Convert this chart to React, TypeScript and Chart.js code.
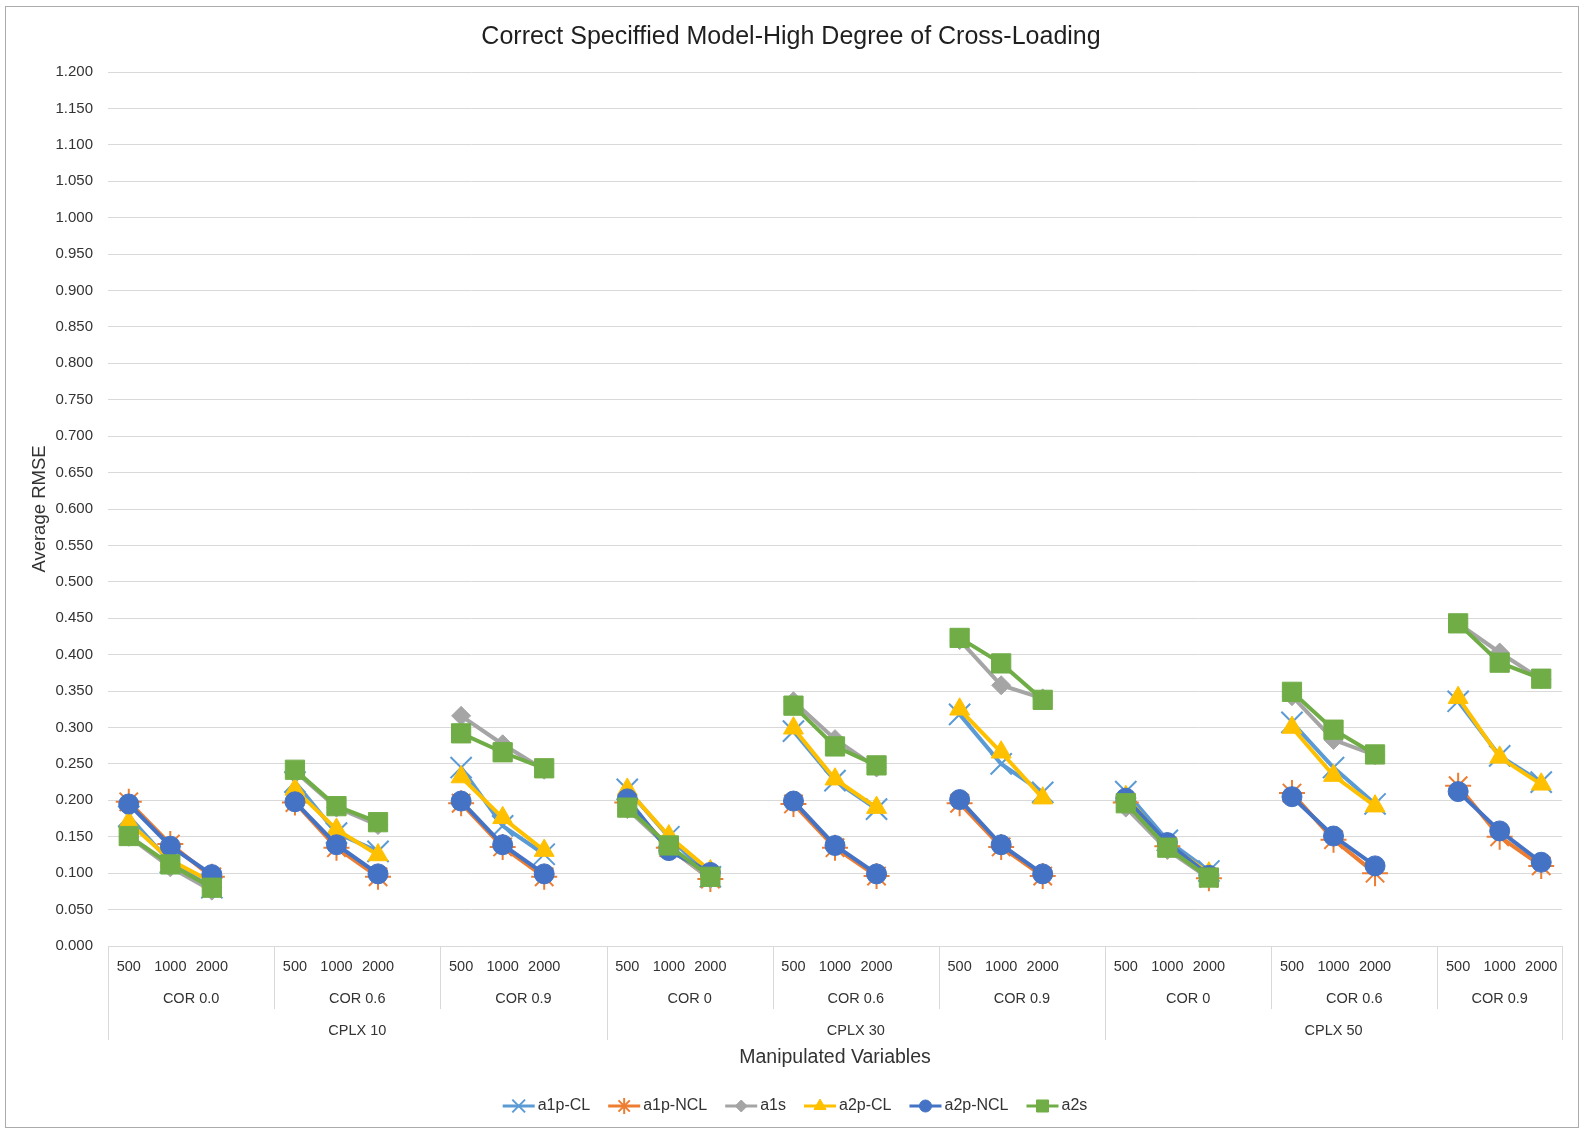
import React, { useEffect, useRef } from 'react';
import { Chart, registerables } from 'chart.js';
import { drawPoint } from 'chart.js/helpers';

Chart.register(...registerables);

// ---------- data ----------
const sampleSizes = ['500', '1000', '2000'];
const corLabels = ['COR 0.0', 'COR 0.6', 'COR 0.9', 'COR 0', 'COR 0.6', 'COR 0.9', 'COR 0', 'COR 0.6', 'COR 0.9'];
const cplxLabels = ['CPLX 10', 'CPLX 30', 'CPLX 50'];
const seriesNames = ['a1p-CL', 'a1p-NCL', 'a1s', 'a2p-CL', 'a2p-NCL', 'a2s'];

const a1pCL = [0.178, 0.115, 0.080, 0.225, 0.155, 0.130, 0.245, 0.165, 0.126, 0.215, 0.150, 0.095, 0.295, 0.227, 0.188, 0.318, 0.250, 0.211, 0.212, 0.145, 0.103, 0.307, 0.245, 0.195, 0.336, 0.261, 0.225];
const a1pNCL = [0.198, 0.140, 0.095, 0.197, 0.135, 0.095, 0.196, 0.136, 0.095, 0.197, 0.135, 0.092, 0.195, 0.135, 0.096, 0.196, 0.136, 0.096, 0.197, 0.137, 0.093, 0.210, 0.146, 0.100, 0.220, 0.150, 0.110];
const a1s = [0.150, 0.108, 0.076, 0.240, 0.190, 0.166, 0.316, 0.277, 0.242, 0.188, 0.135, 0.092, 0.336, 0.284, 0.245, 0.420, 0.358, 0.340, 0.190, 0.132, 0.093, 0.343, 0.283, 0.262, 0.443, 0.403, 0.366];
const a2pCL = [0.170, 0.118, 0.088, 0.215, 0.160, 0.125, 0.232, 0.176, 0.131, 0.215, 0.151, 0.103, 0.299, 0.229, 0.190, 0.325, 0.266, 0.203, 0.205, 0.140, 0.100, 0.300, 0.234, 0.192, 0.341, 0.259, 0.222];
const a2pNCL = [0.195, 0.137, 0.098, 0.198, 0.139, 0.099, 0.199, 0.139, 0.099, 0.202, 0.131, 0.101, 0.199, 0.138, 0.099, 0.201, 0.139, 0.099, 0.203, 0.142, 0.097, 0.205, 0.151, 0.110, 0.212, 0.158, 0.115];
const a2s = [0.151, 0.112, 0.080, 0.242, 0.192, 0.170, 0.292, 0.266, 0.244, 0.190, 0.138, 0.095, 0.330, 0.274, 0.248, 0.423, 0.388, 0.338, 0.196, 0.135, 0.094, 0.349, 0.297, 0.263, 0.443, 0.389, 0.367];

const seriesValues = [a1pCL, a1pNCL, a1s, a2pCL, a2pNCL, a2s];

// ---------- styles ----------
const seriesColors = ['#5B9BD5', '#ED7D31', '#A5A5A5', '#FFC000', '#4472C4', '#70AD47'];
const pointStyles = ['crossRot', 'star', 'rectRot', 'triangle', 'circle', 'rect'];
const pointRadii = [15, 13, 9.5, 11.5, 10, 13.6];
const pointBorders = [2, 2, 1, 1, 1, 1];
const legendRadii = [9, 8, 6, 7, 6, 8.5];

const FONT = "'Liberation Sans', Arial, sans-serif";
const TEXT = '#333333';
const TITLE = '#1f1f1f';
const GRID = '#D9D9D9';
const W = 1585;
const H = 1128;

// build category axis (blank slot between groups)
const labels: string[] = [];
corLabels.forEach((_, g) => {
  sampleSizes.forEach((s) => labels.push(s));
  if (g < corLabels.length - 1) labels.push('');
});

function expand(vals: number[]): (number | null)[] {
  const out: (number | null)[] = [];
  corLabels.forEach((_, g) => {
    for (let i = 0; i < sampleSizes.length; i++) out.push(vals[g * 3 + i]);
    if (g < corLabels.length - 1) out.push(null);
  });
  return out;
}

const decorPlugin = {
  id: 'decor',
  beforeDraw(chart: any) {
    const ctx = chart.ctx;
    ctx.save();
    ctx.fillStyle = '#ffffff';
    ctx.fillRect(0, 0, W, H);
    ctx.strokeStyle = '#ABABAB';
    ctx.lineWidth = 1;
    ctx.strokeRect(5.5, 6.5, 1573, 1121);
    ctx.restore();
  },
  afterDraw(chart: any) {
    const ctx = chart.ctx;
    const x = chart.scales.x;
    const area = chart.chartArea;
    const slot = (x.right - x.left) / labels.length;
    ctx.save();

    // title
    ctx.fillStyle = TITLE;
    ctx.font = `25px ${FONT}`;
    ctx.textAlign = 'center';
    ctx.textBaseline = 'middle';
    ctx.fillText('Correct Speciffied Model-High Degree of Cross-Loading', 791, 37);

    // group separators
    const bounds: number[] = [];
    corLabels.forEach((_, g) => bounds.push(x.getPixelForValue(g * 4) - slot / 2));
    bounds.push(x.right);
    ctx.strokeStyle = GRID;
    ctx.lineWidth = 1;
    bounds.forEach((bx, i) => {
      const px = Math.round(bx) + 0.5;
      ctx.beginPath();
      ctx.moveTo(px, area.bottom);
      ctx.lineTo(px, i % 3 === 0 ? area.bottom + 94 : area.bottom + 63);
      ctx.stroke();
    });

    // category labels
    ctx.fillStyle = TEXT;
    ctx.font = `14.5px ${FONT}`;
    ctx.textAlign = 'center';
    ctx.textBaseline = 'middle';
    labels.forEach((lab, i) => {
      if (lab) ctx.fillText(lab, x.getPixelForValue(i), area.bottom + 21);
    });
    corLabels.forEach((lab, g) => {
      ctx.fillText(lab, (bounds[g] + bounds[g + 1]) / 2, area.bottom + 53);
    });
    cplxLabels.forEach((lab, c) => {
      ctx.fillText(lab, (bounds[c * 3] + bounds[c * 3 + 3]) / 2, area.bottom + 85);
    });

    // axis titles
    ctx.font = `19.5px ${FONT}`;
    ctx.fillText('Manipulated Variables', (area.left + area.right) / 2, 1058);
    ctx.save();
    ctx.translate(40, (area.top + area.bottom) / 2);
    ctx.rotate(-Math.PI / 2);
    ctx.font = `18.5px ${FONT}`;
    ctx.fillText('Average RMSE', 0, 0);
    ctx.restore();

    // legend
    ctx.font = `16px ${FONT}`;
    const lineLen = 32;
    const gapText = 3;
    const gapItem = 18;
    const widths = seriesNames.map((n) => ctx.measureText(n).width);
    const total = widths.reduce((a, b) => a + b, 0) + seriesNames.length * (lineLen + gapText) + (seriesNames.length - 1) * gapItem;
    let lx = 795 - total / 2;
    const ly = 1106;
    seriesNames.forEach((name, i) => {
      ctx.strokeStyle = seriesColors[i];
      ctx.lineWidth = 3;
      ctx.beginPath();
      ctx.moveTo(lx, ly);
      ctx.lineTo(lx + lineLen, ly);
      ctx.stroke();
      ctx.fillStyle = seriesColors[i];
      ctx.strokeStyle = seriesColors[i];
      ctx.lineWidth = pointBorders[i];
      drawPoint(ctx, { pointStyle: pointStyles[i], radius: legendRadii[i], rotation: 0, borderWidth: pointBorders[i] } as any, lx + lineLen / 2, ly);
      ctx.fillStyle = TEXT;
      ctx.textAlign = 'left';
      ctx.fillText(name, lx + lineLen + gapText, ly);
      lx += lineLen + gapText + widths[i] + gapItem;
    });

    ctx.restore();
  },
};

export default function App() {
  const ref = useRef<HTMLCanvasElement | null>(null);

  useEffect(() => {
    if (!ref.current) return;
    Chart.defaults.font.family = FONT;
    const datasets = seriesNames.map((name, i) => ({
      label: name,
      data: expand(seriesValues[i]),
      borderColor: seriesColors[i],
      backgroundColor: seriesColors[i],
      pointBackgroundColor: seriesColors[i],
      pointBorderColor: seriesColors[i],
      pointStyle: pointStyles[i],
      pointRadius: pointRadii[i],
      pointBorderWidth: pointBorders[i],
      borderWidth: 4,
      tension: 0,
      spanGaps: false,
      order: seriesNames.length - 1 - i,
    }));

    const chart = new Chart(ref.current, {
      type: 'line',
      data: { labels, datasets },
      plugins: [decorPlugin],
      options: {
        animation: false,
        responsive: false,
        events: [],
        layout: { padding: { left: 0, top: 72, right: W - 1562, bottom: H - 946 - 100 } },
        plugins: {
          legend: { display: false },
          title: { display: false },
          tooltip: { enabled: false },
        },
        scales: {
          x: {
            type: 'category',
            offset: true,
            grid: { display: false },
            border: { display: true, color: GRID, width: 1 },
            ticks: { display: false },
            afterFit: (s: any) => { s.height = 100; },
          },
          y: {
            min: 0,
            max: 1.2,
            grid: { color: GRID, lineWidth: 1, drawTicks: false },
            border: { display: false },
            ticks: {
              stepSize: 0.05,
              autoSkip: false,
              padding: 15,
              color: TEXT,
              font: { size: 15, family: FONT },
              callback: (v: any) => Number(v).toFixed(3),
            },
            afterFit: (s: any) => { s.width = 108; },
          },
        },
      },
    });
    return () => chart.destroy();
  }, []);

  return (
    <div style={{ position: 'absolute', left: 0, top: 0, width: W, height: H }}>
      <canvas ref={ref} width={W} height={H} style={{ width: W, height: H, display: 'block' }} />
    </div>
  );
}
